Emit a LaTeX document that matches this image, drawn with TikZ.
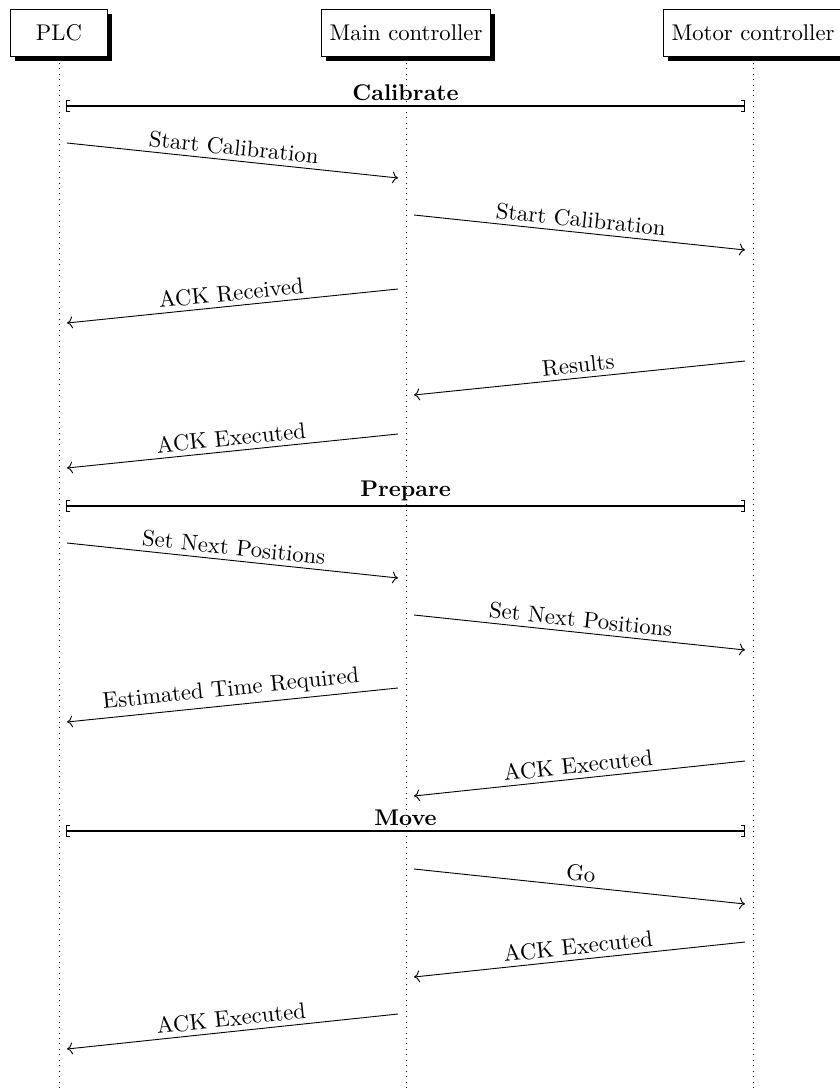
\documentclass[tikz,border=0pt]{standalone}
\usetikzlibrary{shadows,arrows.meta,backgrounds}
\tikzset{bracketend/.tip={Bracket[width=5pt,length=1.6pt]}}
\begin{document}
\begin{tikzpicture}[x=0.4405pt,y=-0.4405pt,
  head/.style={draw, fill=white, rectangle, minimum width=42.5pt,
    minimum height=21pt, inner sep=3.7pt,
    drop shadow={fill=black, opacity=1, shadow xshift=2pt, shadow yshift=-2pt}},
  lifeline/.style={dotted, line width=0.4pt},
  msg/.style={->, line width=0.4pt},
  msglbl/.style={midway, above, sloped, inner sep=2pt},
  region/.style={bracketend-bracketend, line width=0.45pt},
  regionlbl/.style={midway, above, inner sep=2.2pt, font=\bfseries}]
\useasboundingbox (0,0) rectangle (840,1088);

% participants
\node[head] (plc) at (59,33) {PLC};
\node[head] (mc)  at (406,33) {Main controller};
\node[head] (moc) at (753,33) {Motor controller};

% lifelines
\coordinate (plcend) at (59,1088);
\coordinate (mcend)  at (406,1088);
\coordinate (mocend) at (753,1088);
\begin{pgfonlayer}{background}
  \draw[lifeline] (plc.south) -- (plcend);
  \draw[lifeline] (mc.south) -- (mcend);
  \draw[lifeline] (moc.south) -- (mocend);
\end{pgfonlayer}

% phase: Calibrate
\coordinate (calL) at (66,106);  \coordinate (calR) at (745,106);
\draw[region] (calL) -- node[regionlbl] {Calibrate} (calR);

\coordinate (a1) at (67,143);  \coordinate (b1) at (398,178);
\draw[msg] (a1) -- node[msglbl] {Start Calibration} (b1);
\coordinate (a2) at (414,215); \coordinate (b2) at (745,250);
\draw[msg] (a2) -- node[msglbl] {Start Calibration} (b2);
\coordinate (a3) at (398,289); \coordinate (b3) at (67,323);
\draw[msg] (a3) -- node[msglbl] {ACK Received} (b3);
\coordinate (a4) at (745,361); \coordinate (b4) at (414,395);
\draw[msg] (a4) -- node[msglbl] {Results} (b4);
\coordinate (a5) at (398,434); \coordinate (b5) at (67,468);
\draw[msg] (a5) -- node[msglbl] {ACK Executed} (b5);

% phase: Prepare
\coordinate (prepL) at (66,506);  \coordinate (prepR) at (745,506);
\draw[region] (prepL) -- node[regionlbl] {Prepare} (prepR);

\coordinate (a6) at (67,543);  \coordinate (b6) at (398,578);
\draw[msg] (a6) -- node[msglbl] {Set Next Positions} (b6);
\coordinate (a7) at (414,615); \coordinate (b7) at (745,650);
\draw[msg] (a7) -- node[msglbl] {Set Next Positions} (b7);
\coordinate (a8) at (398,688); \coordinate (b8) at (67,722);
\draw[msg] (a8) -- node[msglbl] {Estimated Time Required} (b8);
\coordinate (a9) at (745,761); \coordinate (b9) at (414,796);
\draw[msg] (a9) -- node[msglbl] {ACK Executed} (b9);

% phase: Move
\coordinate (movL) at (66,831);  \coordinate (movR) at (745,831);
\draw[region] (movL) -- node[regionlbl] {Move} (movR);

\coordinate (a10) at (414,869); \coordinate (b10) at (745,904);
\draw[msg] (a10) -- node[msglbl] {Go} (b10);
\coordinate (a11) at (745,942); \coordinate (b11) at (414,977);
\draw[msg] (a11) -- node[msglbl] {ACK Executed} (b11);
\coordinate (a12) at (398,1014); \coordinate (b12) at (67,1049);
\draw[msg] (a12) -- node[msglbl] {ACK Executed} (b12);
\end{tikzpicture}
\end{document}
